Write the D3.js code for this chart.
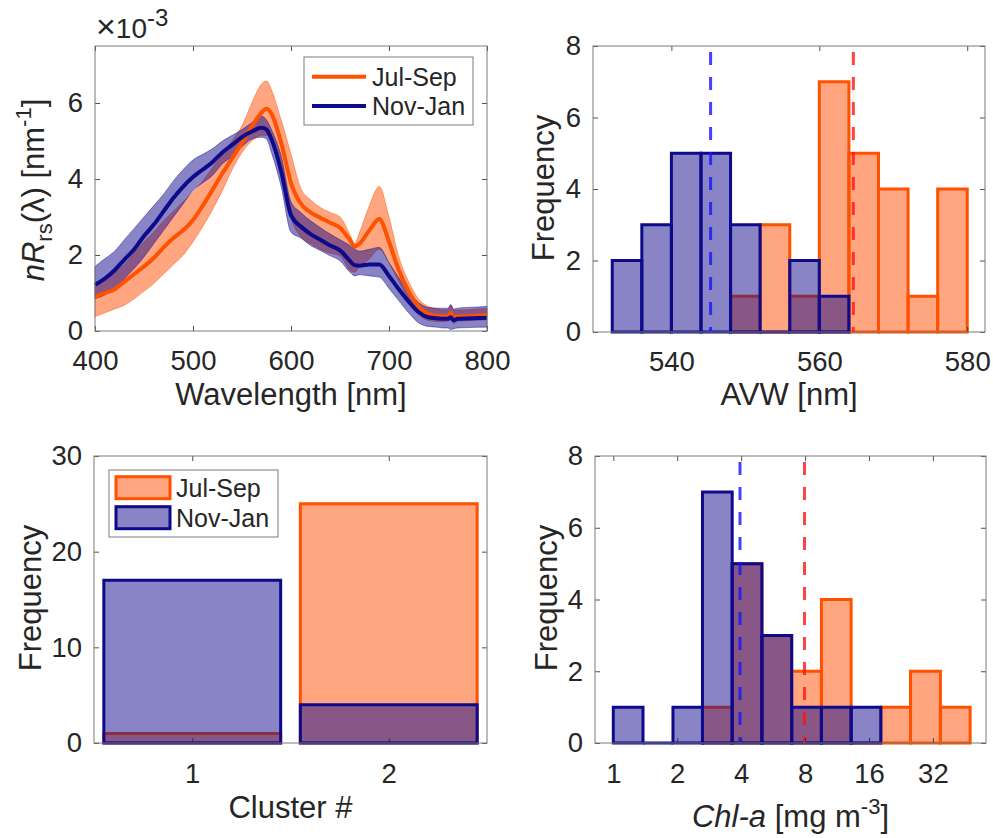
<!DOCTYPE html>
<html>
<head>
<meta charset="utf-8">
<script src="https://cdn.jsdelivr.net/npm/d3@7"></script>
<style>
  body { margin: 0; background: #fff; }
  svg text { font-family: "Liberation Sans", Arial, Helvetica, sans-serif; fill: #262626; }
</style>
</head>
<body>
<svg id="fig" width="993" height="838"></svg>
<script>
// spectra, values in units of 1e-3 nm^-1
var wl = [400,410,420,430,440,450,460,470,480,490,500,510,520,530,540,550,560,570,575,580,590,600,610,620,630,640,650,660,665,670,680,690,700,710,720,730,740,750,755,760,763,766,770,780,790,800];
var julMean = [0.90,1.00,1.10,1.30,1.50,1.70,1.92,2.20,2.45,2.65,2.92,3.30,3.72,4.15,4.55,4.95,5.38,5.75,5.85,5.72,4.95,3.90,3.35,3.12,2.98,2.85,2.72,2.40,2.22,2.30,2.65,2.95,2.35,1.60,1.05,0.65,0.45,0.40,0.38,0.38,0.48,0.36,0.38,0.38,0.40,0.42];
var julLow = [0.38,0.48,0.58,0.68,0.85,1.05,1.25,1.50,1.75,2.00,2.35,2.75,3.20,3.70,4.25,4.70,5.00,5.15,5.15,5.05,4.40,3.00,2.48,2.30,2.15,2.05,1.98,1.60,1.55,1.70,1.90,2.15,1.80,1.30,0.85,0.45,0.28,0.25,0.25,0.26,0.30,0.20,0.26,0.27,0.28,0.30];
var julHigh = [1.25,1.40,1.55,1.75,2.05,2.35,2.60,2.90,3.15,3.40,3.65,3.95,4.30,4.65,5.00,5.40,6.00,6.50,6.58,6.35,5.55,4.65,3.75,3.45,3.25,3.12,3.00,2.55,2.30,2.60,3.30,3.80,3.00,1.95,1.30,0.85,0.65,0.58,0.56,0.56,0.68,0.55,0.55,0.56,0.58,0.60];
var novMean = [1.22,1.38,1.60,1.88,2.15,2.50,2.80,3.15,3.50,3.80,4.05,4.25,4.45,4.70,4.90,5.10,5.25,5.35,5.30,5.05,4.20,3.05,2.75,2.55,2.40,2.25,2.12,1.85,1.73,1.72,1.75,1.75,1.45,1.10,0.78,0.50,0.36,0.33,0.32,0.32,0.36,0.28,0.32,0.33,0.34,0.35];
var novLow = [0.85,0.95,1.12,1.38,1.65,1.95,2.30,2.65,3.00,3.35,3.70,3.90,4.10,4.40,4.60,4.85,5.05,5.10,5.05,4.70,3.80,2.60,2.45,2.25,2.12,1.98,1.85,1.55,1.45,1.48,1.45,1.42,1.12,0.80,0.48,0.22,0.12,0.10,0.08,0.08,0.04,0.06,0.08,0.09,0.10,0.10];
var novHigh = [1.70,1.90,2.10,2.40,2.70,3.00,3.30,3.60,3.95,4.25,4.50,4.65,4.80,5.00,5.15,5.30,5.48,5.65,5.55,5.30,4.60,3.40,3.12,2.90,2.72,2.55,2.40,2.25,2.15,2.10,2.15,2.20,1.80,1.40,1.05,0.75,0.62,0.60,0.60,0.60,0.70,0.58,0.60,0.62,0.63,0.65];

// AVW histograms
var avwEdgesJul = [548,552,556,560,564,568,572,576,580];
var avwCountsJul = [1,3,1,7,5,4,1,4];
var avwEdgesNov = [532,536,540,544,548,552,556,560,564];
var avwCountsNov = [2,3,5,5,3,0,2,1];
var avwMeanJul = 564.6, avwMeanNov = 545.3;

// cluster membership
var clusters = [1, 2];
var clusterJul = [1, 25];
var clusterNov = [17, 4];

// Chl-a histograms (log bins)
var chlEdges = [1,1.38,1.91,2.63,3.63,5.01,6.92,9.55,13.18,18.2,25.1,34.7,47.9];
var chlCountsNov = [1,0,1,7,5,3,1,1,1];   // bins 1..9
var chlCountsJul = [1,5,3,2,4,0,1,2,1];   // bins 4..12
var chlMeanJul = 7.95, chlMeanNov = 3.95;

var seasons = ["Jul-Sep", "Nov-Jan"];

var orange = "#ff4b00", navy = "#110a8c";
var orangeEdge = "#ff5200", navyEdge = "#0d0b8c";

var svg = d3.select("#fig");

// axes box with inward ticks on all sides
function drawAxes(box, x, y, xTicks, yTicks, xFmt, xPad) {
  var ax = svg.append("g");
  ax.append("g").attr("transform", "translate(0," + box.y1 + ")")
    .call(d3.axisBottom(x).tickValues(xTicks).tickSize(-5).tickPadding(xPad).tickFormat(xFmt || d3.format("d")));
  ax.append("g").attr("transform", "translate(0," + box.y0 + ")")
    .call(d3.axisTop(x).tickValues(xTicks).tickSize(-5).tickFormat(""));
  ax.append("g").attr("transform", "translate(" + box.x0 + ",0)")
    .call(d3.axisLeft(y).tickValues(yTicks).tickSize(-5).tickPadding(12).tickFormat(d3.format("d")));
  ax.append("g").attr("transform", "translate(" + box.x1 + ",0)")
    .call(d3.axisRight(y).tickValues(yTicks).tickSize(-5).tickFormat(""));
  ax.selectAll(".domain").remove();
  ax.selectAll(".tick line").attr("stroke", "#262626").attr("stroke-width", 0.8);
  ax.selectAll(".tick text").attr("font-size", 27.5).attr("fill", "#262626");
  ax.append("rect").attr("x", box.x0).attr("y", box.y0)
    .attr("width", box.x1 - box.x0).attr("height", box.y1 - box.y0)
    .attr("fill", "none").attr("stroke", "#7a7a7a").attr("stroke-width", 1);
  return ax;
}

function yLabel(x, y, text) {
  return svg.append("text").attr("transform", "translate(" + x + "," + y + ") rotate(-90)")
    .attr("text-anchor", "middle").attr("font-size", 31).text(text);
}

function histBars(g, x, y, edges, counts, fill, edge) {
  g.selectAll(null).data(counts).enter().append("path")
    .attr("d", function (c, i) {
      return "M" + x(edges[i]) + "," + y(0) + "V" + y(c) + "H" + x(edges[i + 1]) + "V" + y(0) + "Z";
    })
    .attr("fill", fill).attr("fill-opacity", 0.5)
    .attr("stroke", edge).attr("stroke-width", 3).attr("stroke-linejoin", "miter");
}

function meanLine(g, x, box, v, color) {
  g.append("line").attr("x1", x(v)).attr("x2", x(v))
    .attr("y1", box.y0 + 6).attr("y2", box.y1)
    .attr("stroke", color).attr("stroke-width", 3).attr("stroke-dasharray", "13,12");
}

// ---- panel 1: spectra ----
var b1 = { x0: 95, x1: 487, y0: 46, y1: 331 };
var x1 = d3.scaleLinear().domain([400, 800]).range([b1.x0, b1.x1]);
var y1 = d3.scaleLinear().domain([0, 7.5]).range([b1.y1, b1.y0]);
var g1 = svg.append("g");
var series = [
  { mean: julMean, lo: julLow, hi: julHigh, c: orange, lc: orangeEdge },
  { mean: novMean, lo: novLow, hi: novHigh, c: navy, lc: navyEdge }
];
series.forEach(function (s) {
  var area = d3.area().x(function (d, i) { return x1(wl[i]); })
    .y0(function (d, i) { return y1(s.lo[i]); })
    .y1(function (d, i) { return y1(s.hi[i]); })
    .curve(d3.curveMonotoneX);
  g1.append("path").attr("d", area(wl)).attr("fill", s.c).attr("fill-opacity", 0.5)
    .attr("stroke", s.c).attr("stroke-opacity", 0.45).attr("stroke-width", 1);
});
series.forEach(function (s) {
  var line = d3.line().x(function (d, i) { return x1(wl[i]); })
    .y(function (d, i) { return y1(s.mean[i]); })
    .curve(d3.curveMonotoneX);
  g1.append("path").attr("d", line(wl)).attr("fill", "none")
    .attr("stroke", s.lc).attr("stroke-width", 4);
});
drawAxes(b1, x1, y1, [400, 500, 600, 700, 800], [0, 2, 4, 6], null, 19);

// x10^-3 multiplier
var mult = svg.append("text").attr("x", 96).attr("y", 38).attr("font-size", 28);
mult.append("tspan").attr("font-size", 34).text("\u00d7");
mult.append("tspan").text("10");
mult.append("tspan").attr("font-size", 24).attr("dy", -12).text("-3");

// legend
var leg1 = svg.append("g");
leg1.append("rect").attr("x", 304).attr("y", 57).attr("width", 169).attr("height", 68)
  .attr("fill", "#fff").attr("stroke", "#7a7a7a").attr("stroke-width", 1);
[76.7, 106].forEach(function (ly, i) {
  leg1.append("line").attr("x1", 312).attr("x2", 366).attr("y1", ly).attr("y2", ly)
    .attr("stroke", series[i].lc).attr("stroke-width", 4);
  leg1.append("text").attr("x", 372).attr("y", ly + 9).attr("font-size", 25).text(seasons[i]);
});

svg.append("text").attr("x", (b1.x0 + b1.x1) / 2).attr("y", 405)
  .attr("text-anchor", "middle").attr("font-size", 31).text("Wavelength [nm]");
var yl1 = svg.append("text").attr("transform", "translate(44,190) rotate(-90)")
  .attr("text-anchor", "middle").attr("font-size", 31);
yl1.append("tspan").attr("font-style", "italic").text("nR");
yl1.append("tspan").attr("font-size", 22).attr("dy", 8).text("rs");
yl1.append("tspan").attr("dy", -8).text("(\u03bb) [nm");
yl1.append("tspan").attr("font-size", 22).attr("dy", -13).text("-1");
yl1.append("tspan").attr("dy", 13).text("]");

// ---- panel 2: AVW histogram ----
var b2 = { x0: 593, x1: 985, y0: 46, y1: 332 };
var x2 = d3.scaleLinear().domain([529.4, 582.4]).range([b2.x0, b2.x1]);
var y2 = d3.scaleLinear().domain([0, 8]).range([b2.y1, b2.y0]);
var g2 = svg.append("g");
histBars(g2, x2, y2, avwEdgesJul, avwCountsJul, orange, orangeEdge);
histBars(g2, x2, y2, avwEdgesNov, avwCountsNov, navy, navyEdge);
meanLine(g2, x2, b2, avwMeanNov, "rgba(20,20,255,0.8)");
meanLine(g2, x2, b2, avwMeanJul, "rgba(255,20,20,0.8)");
drawAxes(b2, x2, y2, [540, 560, 580], [0, 2, 4, 6, 8], null, 19);
svg.append("text").attr("x", (b2.x0 + b2.x1) / 2).attr("y", 405)
  .attr("text-anchor", "middle").attr("font-size", 31).text("AVW [nm]");
yLabel(554, 188, "Frequency");

// ---- panel 3: cluster counts ----
var b3 = { x0: 94, x1: 487, y0: 456, y1: 743 };
var x3 = d3.scaleLinear().domain([0.5, 2.5]).range([b3.x0, b3.x1]);
var y3 = d3.scaleLinear().domain([0, 30]).range([b3.y1, b3.y0]);
var g3 = svg.append("g");
[[clusterJul, orange, orangeEdge], [clusterNov, navy, navyEdge]].forEach(function (s) {
  g3.selectAll(null).data(clusters).enter().append("path")
    .attr("d", function (c, i) {
      return "M" + x3(c - 0.45) + "," + y3(0) + "V" + y3(s[0][i]) + "H" + x3(c + 0.45) + "V" + y3(0) + "Z";
    })
    .attr("fill", s[1]).attr("fill-opacity", 0.5)
    .attr("stroke", s[2]).attr("stroke-width", 3);
});
drawAxes(b3, x3, y3, [1, 2], [0, 10, 20, 30], null, 20);
var leg3 = svg.append("g");
leg3.append("rect").attr("x", 109).attr("y", 470).attr("width", 169).attr("height", 67)
  .attr("fill", "#fff").attr("stroke", "#7a7a7a").attr("stroke-width", 1);
[[476.7, orange, orangeEdge], [506.7, navy, navyEdge]].forEach(function (e, i) {
  leg3.append("rect").attr("x", 116).attr("y", e[0]).attr("width", 54).attr("height", 22)
    .attr("fill", e[1]).attr("fill-opacity", 0.5).attr("stroke", e[2]).attr("stroke-width", 3);
  leg3.append("text").attr("x", 176).attr("y", e[0] + 20).attr("font-size", 25).text(seasons[i]);
});
svg.append("text").attr("x", (b3.x0 + b3.x1) / 2).attr("y", 818)
  .attr("text-anchor", "middle").attr("font-size", 31).text("Cluster #");
yLabel(41, 598, "Frequency");

// ---- panel 4: Chl-a histogram ----
var b4 = { x0: 595, x1: 986, y0: 456, y1: 743 };
var x4 = d3.scaleLog().base(2).domain([0.82, 56.9]).range([b4.x0, b4.x1]);
var y4 = d3.scaleLinear().domain([0, 8]).range([b4.y1, b4.y0]);
var g4 = svg.append("g");
histBars(g4, x4, y4, chlEdges.slice(3), chlCountsJul, orange, orangeEdge);
histBars(g4, x4, y4, chlEdges.slice(0, 10), chlCountsNov, navy, navyEdge);
meanLine(g4, x4, b4, chlMeanNov, "rgba(20,20,255,0.8)");
meanLine(g4, x4, b4, chlMeanJul, "rgba(255,20,20,0.8)");
drawAxes(b4, x4, y4, [1, 2, 4, 8, 16, 32], [0, 2, 4, 6, 8], d3.format("d"), 20);
var xl4 = svg.append("text").attr("x", (b4.x0 + b4.x1) / 2).attr("y", 827)
  .attr("text-anchor", "middle").attr("font-size", 31);
xl4.append("tspan").attr("font-style", "italic").text("Chl-a");
xl4.append("tspan").text(" [mg m");
xl4.append("tspan").attr("font-size", 22).attr("dy", -13).text("-3");
xl4.append("tspan").attr("dy", 13).text("]");
yLabel(557, 598, "Frequency");
</script>
</body>
</html>
